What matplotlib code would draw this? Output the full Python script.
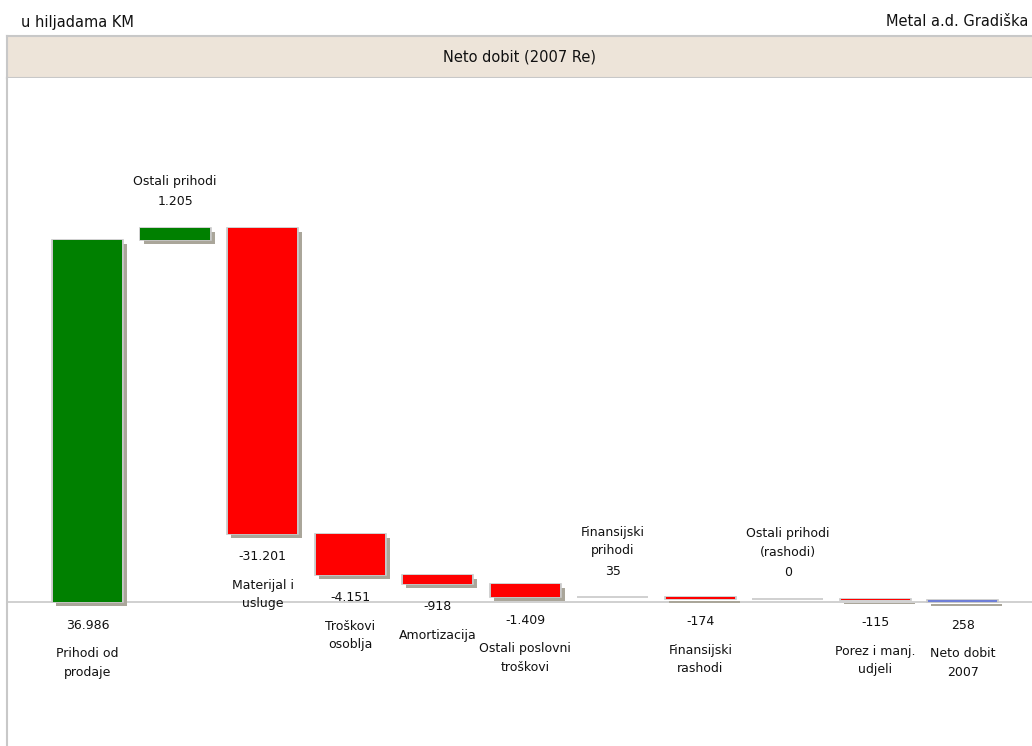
import numpy as np
import matplotlib
matplotlib.use("Agg")
import matplotlib.pyplot as plt
import matplotlib.transforms as mtransforms

plt.rcParams['font.family'] = ['DejaVu Sans']

# data (u hiljadama KM)
categories = ["Prihodi od\nprodaje", "Ostali prihodi", "Materijal i\nusluge", "Troškovi\nosoblja",
              "Amortizacija", "Ostali poslovni\ntroškovi", "Finansijski\nprihodi", "Finansijski\nrashodi",
              "Ostali prihodi\n(rashodi)", "Porez i manj.\nudjeli", "Neto dobit\n2007"]
values = [36986, 1205, -31201, -4151, -918, -1409, 35, -174, 0, -115, 258]

title = "Neto dobit (2007 Re)"
left_note = "u hiljadama KM"
right_note = "Metal a.d. Gradiška"

green = "#008000"
red = "#ff0000"
blue = "#6f7fd6"
shadow = "#aaa69a"
edge = "#c8c8c8"

# waterfall bottoms / heights (last bar = total from 0)
n = len(values)
x = np.arange(n)
bottoms = []
heights = []
run = 0
for i, v in enumerate(values):
    if i == n - 1:
        bottoms.append(0)
    else:
        bottoms.append(run)
        run += v
    heights.append(v)
colors = []
for i, v in enumerate(values):
    if i == n - 1:
        colors.append(blue)
    elif v >= 0:
        colors.append(green)
    else:
        colors.append(red)

fig = plt.figure(figsize=(10.32, 7.46), dpi=100)
W, H = 1032, 746

# header band
hdr = fig.add_axes([7 / W, (H - 78) / H, (W - 7) / W, 42 / H])
hdr.set_facecolor("#ede4d9")
hdr.set_xticks([])
hdr.set_yticks([])
for s in ["top", "bottom", "left"]:
    hdr.spines[s].set_color("#c8c8c8")
    hdr.spines[s].set_linewidth(1.5)
hdr.spines["right"].set_visible(False)
hdr.text(0.5, 0.5, title, ha="center", va="center", fontsize=10.5, color="#111111",
         transform=hdr.transAxes)

fig.text(21 / W, 1 - 22 / H, left_note, ha="left", va="center", fontsize=10.5, color="#111111")
fig.text(1028 / W, 1 - 22 / H, right_note, ha="right", va="center", fontsize=10.5, color="#111111")

ax = fig.add_axes([7 / W, 0, (W - 7) / W, (H - 78) / H])
ax.set_xlim(-0.92, 10.79)
ax.set_ylim(-14630, 53460)
for s in ["top", "right", "bottom"]:
    ax.spines[s].set_visible(False)
ax.spines["left"].set_color("#c8c8c8")
ax.spines["left"].set_linewidth(1.5)
ax.set_xticks([])
ax.set_yticks([])
ax.axhline(0, color="#c8c8c8", lw=1.2, zorder=1)

# shadows
shadow_tr = mtransforms.offset_copy(ax.transData, fig=fig, x=4, y=-4, units="dots")
ax.bar(x, heights, bottom=bottoms, width=0.81, color=shadow, transform=shadow_tr,
       zorder=2, linewidth=0)
# edge first, fill on top so thin bars keep their colour
ax.bar(x, heights, bottom=bottoms, width=0.81, color=edge, edgecolor=edge,
       linewidth=1.2, zorder=3)
ax.bar(x, heights, bottom=bottoms, width=0.79, color=colors, linewidth=0, zorder=4)

pt = 72 / 100.0
for i, v in enumerate(values):
    lbl = f"{v:,}".replace(",", ".")
    lo = min(bottoms[i], bottoms[i] + heights[i])
    hi = max(bottoms[i], bottoms[i] + heights[i])
    if i == 0 or i == n - 1 or v < 0:
        ax.annotate(lbl, (x[i], lo), xytext=(0, -23 * pt), textcoords="offset points",
                    ha="center", va="center", fontsize=9, color="#111111")
        ax.annotate(categories[i], (x[i], lo), xytext=(0, -45 * pt), textcoords="offset points",
                    ha="center", va="top", fontsize=9, color="#111111", linespacing=1.55)
    else:
        ax.annotate(lbl, (x[i], hi), xytext=(0, 26 * pt), textcoords="offset points",
                    ha="center", va="center", fontsize=9, color="#111111")
        ax.annotate(categories[i], (x[i], hi), xytext=(0, 40 * pt), textcoords="offset points",
                    ha="center", va="bottom", fontsize=9, color="#111111", linespacing=1.55)

fig.savefig("out.png", dpi=100)
